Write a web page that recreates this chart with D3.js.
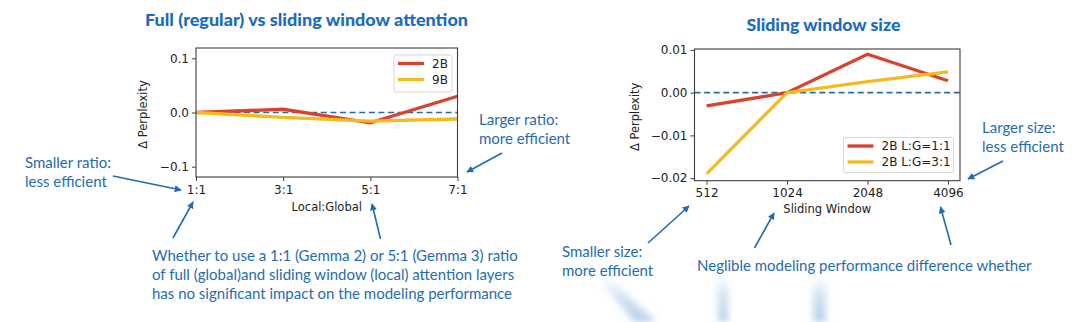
<!DOCTYPE html>
<html><head><meta charset="utf-8">
<script src="https://cdn.jsdelivr.net/npm/d3@7"></script>
<style>
html,body{margin:0;padding:0;background:#fff;}
svg{display:block;}
</style></head>
<body>
<svg id="chart" width="1080" height="322"></svg>
<script>
// ---- Data ----
const ratioCategories = ["1:1", "3:1", "5:1", "7:1"];
const ratio2B = [0.0, 0.006, -0.019, 0.030];
const ratio9B = [0.0, -0.009, -0.016, -0.012];
const ratioYTicks = [-0.1, 0.0, 0.1];
const ratioYTickLabels = ["\u22120.1", "0.0", "0.1"];

const windowCategories = ["512", "1024", "2048", "4096"];
const window2B_1to1 = [-0.0031, 0.0, 0.0090, 0.0028];
const window2B_3to1 = [-0.0190, 0.0, 0.0026, 0.0049];
const windowYTicks = [-0.02, -0.01, 0.0, 0.01];
const windowYTickLabels = ["\u22120.02", "\u22120.01", "0.00", "0.01"];

const leftLegend = ["2B", "9B"];
const rightLegend = ["2B L:G=1:1", "2B L:G=3:1"];

// ---- Styles ----
const RED = "#d9432e", YEL = "#f4bb1d", DASH = "#2c6aa5", ANN = "#1f6cb2", TITLE = "#1b6cc0";
const AX = "#3c3c3c";
const tickFont = "'DejaVu Sans', sans-serif";
const annFont = "Lato, 'Open Sans', sans-serif";

const svg = d3.select("#chart");
const defs = svg.append("defs");
defs.append("marker").attr("id", "arr").attr("viewBox", "0 0 10 10")
  .attr("refX", 9).attr("refY", 5).attr("markerWidth", 7).attr("markerHeight", 7)
  .attr("markerUnits", "userSpaceOnUse").attr("orient", "auto")
  .append("path").attr("d", "M0,0 L10,5 L0,10 z").attr("fill", ANN);
const grad = defs.append("linearGradient").attr("id", "fade").attr("x1", 0).attr("y1", 0).attr("x2", 0).attr("y2", 1);
grad.append("stop").attr("offset", "0%").attr("stop-color", "#6a9fd3").attr("stop-opacity", 0.0);
grad.append("stop").attr("offset", "40%").attr("stop-color", "#6a9fd3").attr("stop-opacity", 0.3);
grad.append("stop").attr("offset", "100%").attr("stop-color", "#6a9fd3").attr("stop-opacity", 0.5);
defs.append("filter").attr("id", "blur").attr("x", "-50%").attr("y", "-50%").attr("width", "200%").attr("height", "200%")
  .append("feGaussianBlur").attr("stdDeviation", 3.5);

function panel(cfg) {
  const g = svg.append("g");
  const x = d3.scalePoint().domain(cfg.cats).range([cfg.x0, cfg.x1]).padding(cfg.pad);
  const y = d3.scaleLinear().domain(cfg.yDomain).range([cfg.y1, cfg.y0]);

  // zero dashed line
  g.append("line").attr("x1", cfg.x0).attr("x2", cfg.x1).attr("y1", y(0)).attr("y2", y(0))
    .attr("stroke", DASH).attr("stroke-width", 1.7).attr("stroke-dasharray", "6,3.6");

  const line = d3.line().x((d, i) => x(cfg.cats[i])).y(d => y(d));
  cfg.series.forEach((s, k) => {
    g.append("path").datum(s).attr("d", line).attr("fill", "none")
      .attr("stroke", k === 0 ? RED : YEL).attr("stroke-width", 3.3)
      .attr("stroke-linejoin", "miter");
  });

  // frame
  g.append("rect").attr("x", cfg.x0).attr("y", cfg.y0).attr("width", cfg.x1 - cfg.x0)
    .attr("height", cfg.y1 - cfg.y0).attr("fill", "none").attr("stroke", AX).attr("stroke-width", 1.1);

  // axes
  const ya = g.append("g").attr("transform", `translate(${cfg.x0},0)`)
    .call(d3.axisLeft(y).tickValues(cfg.yTicks).tickSize(4).tickPadding(3)
      .tickFormat((d, i) => cfg.yLabels[i]));
  const xa = g.append("g").attr("transform", `translate(0,${cfg.y1})`)
    .call(d3.axisBottom(x).tickSize(4).tickPadding(4));
  [ya, xa].forEach(a => {
    a.select(".domain").remove();
    a.selectAll("line").attr("stroke", AX).attr("stroke-width", 1);
    a.selectAll("text").attr("fill", "#222").style("font-family", tickFont).style("font-size", "12px");
  });

  // axis labels
  g.append("text").attr("x", (cfg.x0 + cfg.x1) / 2 + cfg.xlOff).attr("y", cfg.xlY)
    .attr("text-anchor", "middle").attr("fill", "#222").style("font-family", tickFont)
    .style("font-size", "11.5px").text(cfg.xLabel);
  g.append("text").attr("transform", `translate(${cfg.ylX},${(cfg.y0 + cfg.y1) / 2 + 2}) rotate(-90)`)
    .attr("text-anchor", "middle").attr("fill", "#222").style("font-family", tickFont)
    .style("font-size", "11.5px").text("\u0394 Perplexity");

  // legend
  const L = cfg.legend;
  g.append("rect").attr("x", L.x).attr("y", L.y).attr("width", L.w).attr("height", L.h)
    .attr("rx", 2).attr("fill", "#fff").attr("fill-opacity", 0.85).attr("stroke", "#d6d6d6");
  cfg.legendLabels.forEach((t, k) => {
    const yy = L.y + 8.5 + k * 16;
    g.append("line").attr("x1", L.x + 4).attr("x2", L.x + 30).attr("y1", yy).attr("y2", yy)
      .attr("stroke", k === 0 ? RED : YEL).attr("stroke-width", 3.3);
    g.append("text").attr("x", L.x + 38).attr("y", yy + 4.3).attr("fill", "#222")
      .style("font-family", tickFont).style("font-size", "12px").text(t);
  });

  // title
  g.append("text").attr("x", cfg.title.x).attr("y", cfg.title.y).attr("text-anchor", "middle")
    .attr("fill", TITLE).style("font-family", "Lato, sans-serif").style("font-weight", 900)
    .style("font-size", "16.5px").attr("textLength", cfg.title.len).attr("lengthAdjust", "spacingAndGlyphs")
    .text(cfg.title.text);
}

panel({
  cats: ratioCategories, x0: 196, x1: 457.5, pad: 0, y0: 48, y1: 177,
  yDomain: [-0.119, 0.119], yTicks: ratioYTicks, yLabels: ratioYTickLabels,
  series: [ratio2B, ratio9B], xLabel: "Local:Global", xlOff: 0, xlY: 211, ylX: 147,
  legend: {x: 394, y: 55, w: 58, h: 37}, legendLabels: leftLegend,
  title: {x: 306.5, y: 26, len: 323, text: "Full (regular) vs sliding window attention"}
});
panel({
  cats: windowCategories, x0: 694.5, x1: 960, pad: 0.15, y0: 49, y1: 180.7,
  yDomain: [-0.0206, 0.01023], yTicks: windowYTicks, yLabels: windowYTickLabels,
  series: [window2B_1to1, window2B_3to1], xLabel: "Sliding Window", xlOff: 0, xlY: 213, ylX: 639,
  legend: {x: 843.5, y: 137.5, w: 110, h: 35}, legendLabels: rightLegend,
  title: {x: 823.5, y: 31, len: 154, text: "Sliding window size"}
});

// ---- Annotations ----
function txt(x, y, lines, lh) {
  lines.forEach((t, i) => svg.append("text").attr("x", x).attr("y", y + i * lh)
    .attr("fill", ANN).style("font-family", annFont).style("font-size", "15px").text(t));
}
function arrow(x1, y1, x2, y2) {
  svg.append("line").attr("x1", x1).attr("y1", y1).attr("x2", x2).attr("y2", y2)
    .attr("stroke", ANN).attr("stroke-width", 1.6).attr("marker-end", "url(#arr)");
}
txt(25, 168, ["Smaller ratio:", "less efficient"], 19);
txt(479, 125, ["Larger ratio:", "more efficient"], 19);
txt(152, 261, ["Whether to use a 1:1 (Gemma 2) or 5:1 (Gemma 3) ratio",
  "of full (global)and sliding window (local) attention layers",
  "has no significant  impact on the modeling performance"], 19);
txt(562, 257, ["Smaller size:", "more efficient"], 19);
txt(982, 133, ["Larger size:", "less efficient"], 19);
txt(697, 271, ["Neglible modeling performance difference whether"], 19);

arrow(113, 176, 181, 190);
arrow(502, 153, 467, 172);
arrow(173, 238, 193, 202);
arrow(380.5, 239, 372, 204);
arrow(648, 243, 689, 206);
arrow(754.5, 248, 774, 213);
arrow(951, 245, 940.5, 207);
arrow(1003, 161, 968, 179);

// ---- blurred streaks at bottom ----
const streaks = svg.append("g").attr("filter", "url(#blur)");
streaks.append("polygon").attr("points", "598,277 608,277 656,322 634,322").attr("fill", "url(#fade)");
streaks.append("rect").attr("x", 718).attr("y", 276).attr("width", 10).attr("height", 46).attr("fill", "url(#fade)");
streaks.append("rect").attr("x", 813).attr("y", 276).attr("width", 13).attr("height", 46).attr("fill", "url(#fade)");
</script>
</body></html>
